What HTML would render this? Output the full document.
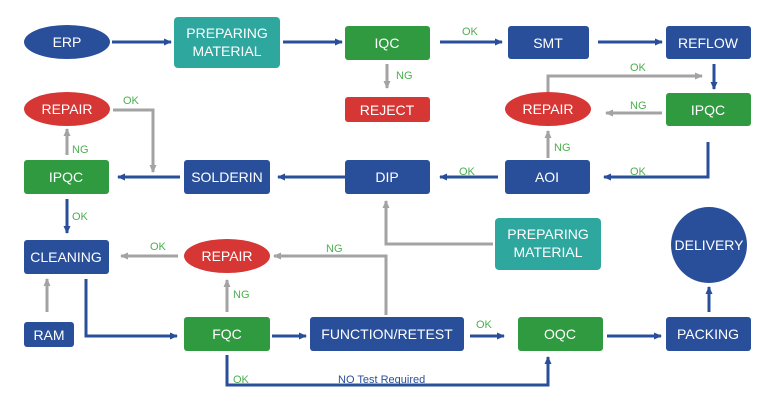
<!DOCTYPE html>
<html><head><meta charset="utf-8"><style>
body{margin:0;background:#fff}
svg text{font-family:"Liberation Sans",sans-serif}
</style></head><body>
<svg width="784" height="410" viewBox="0 0 784 410" xmlns="http://www.w3.org/2000/svg">
<defs>
<marker id="b" markerWidth="8" markerHeight="8" refX="7" refY="4" orient="auto" markerUnits="userSpaceOnUse"><path d="M0,0.5 L8,4 L0,7.5 Z" fill="#2a4f9a"/></marker>
<marker id="g" markerWidth="8" markerHeight="8" refX="7" refY="4" orient="auto" markerUnits="userSpaceOnUse"><path d="M0,0.5 L8,4 L0,7.5 Z" fill="#a3a3a3"/></marker>
</defs>
<g fill="none" stroke-width="3">
<g stroke="#2a4f9a" marker-end="url(#b)">
<path d="M112 42H171"/><path d="M283 42H342"/><path d="M440 42H502"/><path d="M598 42H662"/>
<path d="M714 64V89"/><path d="M708 142V177H604"/><path d="M498 177H440"/>
<path d="M425 177H278"/><path d="M180 177H118"/><path d="M67 199V233"/>
<path d="M86 279V336H177"/><path d="M272 336H306"/><path d="M470 336H504"/>
<path d="M607 336H661"/><path d="M709 312V287"/><path d="M227 355V385H548V357"/>
</g>
<g stroke="#a3a3a3" marker-end="url(#g)">
<path d="M387 64V88"/><path d="M548 93V76H702"/><path d="M662 113H606"/>
<path d="M548 158V131"/><path d="M113 110H153V172"/><path d="M67 155V129"/>
<path d="M47 312V279"/><path d="M227 312V280"/><path d="M178 256H121"/>
<path d="M493 244H386V201"/><path d="M386 315V256H274"/>
</g>
</g>
<g font-size="14" text-anchor="middle" fill="#fff">
<ellipse cx="67" cy="42" rx="43" ry="17" fill="#2a4f9a"/><text x="67" y="47">ERP</text>
<rect x="174" y="17" width="106" height="51" rx="4" fill="#2ea79f"/><text x="227" y="38">PREPARING</text><text x="227" y="56">MATERIAL</text>
<rect x="345" y="26" width="85" height="34" rx="3" fill="#2f9a40"/><text x="387" y="48">IQC</text>
<rect x="508" y="26" width="81" height="33" rx="3" fill="#2a4f9a"/><text x="548" y="48">SMT</text>
<rect x="666" y="26" width="85" height="33" rx="3" fill="#2a4f9a"/><text x="708" y="48">REFLOW</text>
<rect x="345" y="97" width="85" height="25" rx="3" fill="#d63634"/><text x="387" y="115">REJECT</text>
<ellipse cx="548" cy="109" rx="43" ry="17" fill="#d63634"/><text x="548" y="114">REPAIR</text>
<rect x="666" y="93" width="85" height="33" rx="3" fill="#2f9a40"/><text x="708" y="115">IPQC</text>
<ellipse cx="67" cy="109" rx="43" ry="17" fill="#d63634"/><text x="67" y="114">REPAIR</text>
<rect x="24" y="160" width="85" height="34" rx="3" fill="#2f9a40"/><text x="66" y="182">IPQC</text>
<rect x="184" y="160" width="86" height="34" rx="3" fill="#2a4f9a"/><text x="227" y="182">SOLDERIN</text>
<rect x="345" y="160" width="85" height="34" rx="3" fill="#2a4f9a"/><text x="387" y="182">DIP</text>
<rect x="505" y="160" width="85" height="34" rx="3" fill="#2a4f9a"/><text x="547" y="182">AOI</text>
<rect x="495" y="218" width="106" height="52" rx="4" fill="#2ea79f"/><text x="548" y="239">PREPARING</text><text x="548" y="257">MATERIAL</text>
<circle cx="709" cy="245" r="38" fill="#2a4f9a"/><text x="709" y="250">DELIVERY</text>
<rect x="24" y="240" width="85" height="34" rx="3" fill="#2a4f9a"/><text x="66" y="262">CLEANING</text>
<ellipse cx="227" cy="256" rx="43" ry="17" fill="#d63634"/><text x="227" y="261">REPAIR</text>
<rect x="24" y="322" width="50" height="25" rx="3" fill="#2a4f9a"/><text x="49" y="340">RAM</text>
<rect x="184" y="317" width="86" height="34" rx="3" fill="#2f9a40"/><text x="227" y="339">FQC</text>
<rect x="310" y="317" width="154" height="34" rx="3" fill="#2a4f9a"/><text x="387" y="339">FUNCTION/RETEST</text>
<rect x="518" y="317" width="85" height="34" rx="3" fill="#2f9a40"/><text x="560" y="339">OQC</text>
<rect x="666" y="317" width="85" height="34" rx="3" fill="#2a4f9a"/><text x="708" y="339">PACKING</text>
</g>
<g font-size="11" fill="#4caf50">
<text x="462" y="35">OK</text><text x="396" y="79">NG</text><text x="630" y="71">OK</text>
<text x="630" y="109">NG</text><text x="554" y="151">NG</text><text x="630" y="175">OK</text>
<text x="459" y="175">OK</text><text x="123" y="104">OK</text><text x="72" y="153">NG</text>
<text x="72" y="220">OK</text><text x="150" y="250">OK</text><text x="326" y="252">NG</text>
<text x="233" y="298">NG</text><text x="476" y="328">OK</text><text x="233" y="383">OK</text>
</g>
<text x="338" y="383" font-size="11" fill="#2a4f9a">NO Test Required</text>
</svg>
</body></html>
